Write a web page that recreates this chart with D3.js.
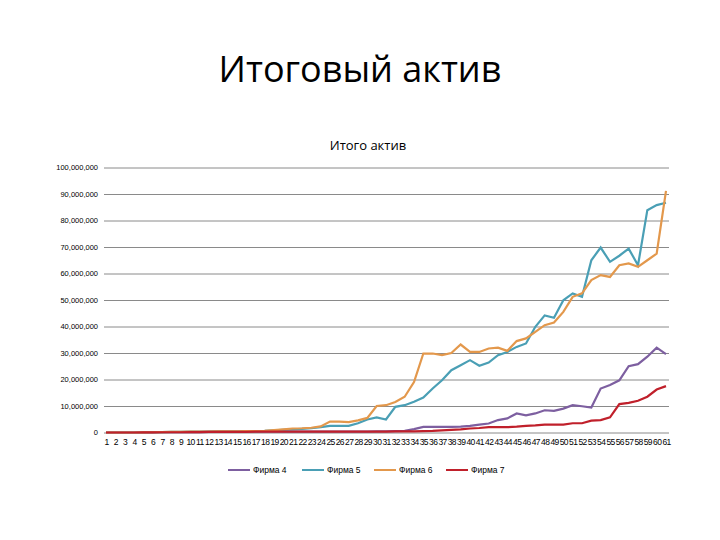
<!DOCTYPE html><html><head><meta charset="utf-8"><script src="https://cdn.jsdelivr.net/npm/d3@7"></script>
<style>body{margin:0;background:#fff}</style></head><body><svg id="c" width="720" height="540"></svg><script>
const categories = d3.range(1,62).map(String);
const yTicks = [0,10e6,20e6,30e6,40e6,50e6,60e6,70e6,80e6,90e6,100e6];
const seriesNames = ["Фирма 4","Фирма 5","Фирма 6","Фирма 7"];
const colors = ["#7d5fa0","#4a9fb5","#e3984c","#c0202b"];
const M=1e6;
const firma4=[0,0,0,0,0.05,0.05,0.1,0.1,0.1,0.15,0.15,0.2,0.2,0.2,0.2,0.25,0.25,0.3,0.3,0.3,0.3,0.3,0.3,0.3,0.3,0.3,0.3,0.3,0.35,0.4,0.4,0.5,0.6,1.3,2.1,2.1,2.1,2.1,2.2,2.5,3,3.4,4.7,5.3,7.2,6.5,7.2,8.4,8.2,9,10.3,9.9,9.4,16.6,17.9,19.7,25,25.8,28.6,32,29.6].map(v=>v*M);
const firma5=[0,0,0,0,0.05,0.1,0.15,0.2,0.25,0.3,0.3,0.35,0.4,0.4,0.45,0.5,0.5,0.6,0.8,1,1.2,1.4,1.6,2,2.5,2.5,2.5,3.5,4.9,5.7,4.9,9.7,10.3,11.6,13.2,16.6,19.7,23.5,25.4,27.3,25.2,26.4,29.2,30.4,32.3,33.6,39.9,44.2,43.3,49.9,52.5,51.2,65,69.8,64.4,66.7,69.4,63.1,83.9,85.8,86.7].map(v=>v*M);
const firma6=[0,0,0,0,0.05,0.1,0.15,0.2,0.25,0.3,0.3,0.35,0.4,0.4,0.45,0.5,0.5,0.6,0.9,1.2,1.5,1.6,1.8,2.3,4.1,4.1,3.9,4.6,5.5,10,10.3,11.5,13.5,19,29.8,29.8,29.2,30,33.2,30.4,30.4,31.7,32,30.8,34.5,35.5,38,40.5,41.5,45.5,51.2,52.5,57.5,59.4,58.7,63.1,63.8,62.5,65,67.5,91.2].map(v=>v*M);
const firma7=[0,0,0,0,0.05,0.05,0.1,0.1,0.1,0.15,0.15,0.2,0.2,0.2,0.25,0.25,0.3,0.3,0.3,0.35,0.35,0.35,0.3,0.3,0.3,0.3,0.3,0.3,0.3,0.3,0.35,0.4,0.4,0.45,0.5,0.6,0.8,1,1.2,1.5,1.7,2,2,2,2.2,2.5,2.7,3,3,3,3.5,3.5,4.5,4.7,5.7,10.7,11.2,12,13.5,16.2,17.5].map(v=>v*M);
const data=[firma4,firma5,firma6,firma7];
const svg=d3.select("#c");
const font="'Liberation Sans', Arial, sans-serif";
svg.append("text").attr("x",360).attr("y",82).attr("text-anchor","middle").attr("font-family","'Open Sans',sans-serif").attr("font-size",36).text("Итоговый актив");
svg.append("text").attr("x",368).attr("y",150).attr("text-anchor","middle").attr("font-family","'Open Sans',sans-serif").attr("font-size",13).text("Итого актив");
const x=d3.scalePoint().domain(categories).range([106,666]);
const y=d3.scaleLinear().domain([0,100e6]).range([432.5,167.5]);
const g=svg.append("g").attr("transform","translate(104,0)");
const ya=d3.axisLeft(y).tickValues(yTicks).tickSize(-565).tickFormat(d=>d3.format(",")(d));
g.call(ya).call(s=>{s.select(".domain").remove();s.selectAll("line").attr("stroke","#8a8a8a");s.selectAll("text").attr("font-family",font).attr("font-size",7.5).attr("fill","#000").attr("x",-6);});
const xa=d3.axisBottom(x).tickSize(0);
svg.append("g").attr("transform","translate(0,436)").call(xa).call(s=>{s.select(".domain").remove();s.selectAll("text").attr("font-family",font).attr("font-size",8.5).attr("fill","#000").attr("letter-spacing",-0.6);});
const line=d3.line().x((d,i)=>x(categories[i])).y(d=>y(d));
data.forEach((d,k)=>svg.append("path").datum(d).attr("d",line).attr("fill","none").attr("stroke",colors[k]).attr("stroke-width",2.2));
const lx=[228,302,374,446];
seriesNames.forEach((n,k)=>{
 svg.append("line").attr("x1",lx[k]).attr("x2",lx[k]+22).attr("y1",470).attr("y2",470).attr("stroke",colors[k]).attr("stroke-width",2);
 svg.append("text").attr("x",lx[k]+25).attr("y",473).attr("font-family",font).attr("font-size",8.5).text(n);
});
</script></body></html>
